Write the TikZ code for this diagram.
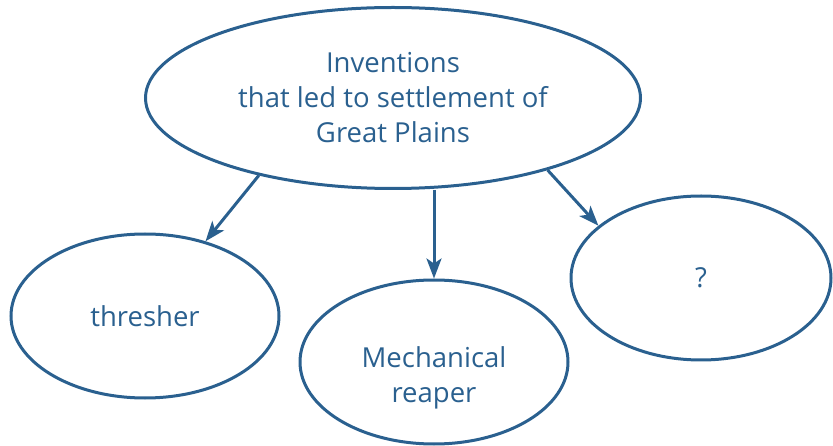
\documentclass[tikz,border=0pt]{standalone}
\usepackage{fontspec}
\setmainfont{Open Sans}
\usetikzlibrary{arrows,arrows.meta,shapes.geometric}
\definecolor{inkblue}{RGB}{42,96,143}
\begin{document}
\begin{tikzpicture}[x=1pt,y=-1pt]
            \tikzset{bubble/.style = {shape=ellipse, draw=inkblue, line width=3pt, text=inkblue, align=center, inner sep=0pt, font=\fontsize{27.5}{35}\selectfont}}
            \tikzset{link/.style = {draw=inkblue, line width=3pt, -{Stealth[length=20pt,width=15pt,inset=5pt]}}}
            \useasboundingbox (0,0) rectangle (833,446);
            % vertices
            \node[bubble, minimum width=495pt, minimum height=181pt] (top) at (393,98) {Inventions\\that led to settlement of\\Great Plains};
            \node[bubble, minimum width=268pt, minimum height=164pt] (thr) at (145,316) {thresher};
            \node[bubble, minimum width=268pt, minimum height=164pt, label={[text=inkblue, align=center, font=\fontsize{27.5}{35}\selectfont, yshift=-16pt]center:Mechanical\\reaper}] (mech) at (434,362) {};
            \node[bubble, minimum width=260pt, minimum height=164pt] (unk) at (701,278) {?};
            % edges
            \draw[link] (top.210) to (thr.51);
            \draw[link] (top.south -| mech.north) to (mech.north);
            \draw[link] (top.-25) to (unk.153);
        \end{tikzpicture}
\end{document}
